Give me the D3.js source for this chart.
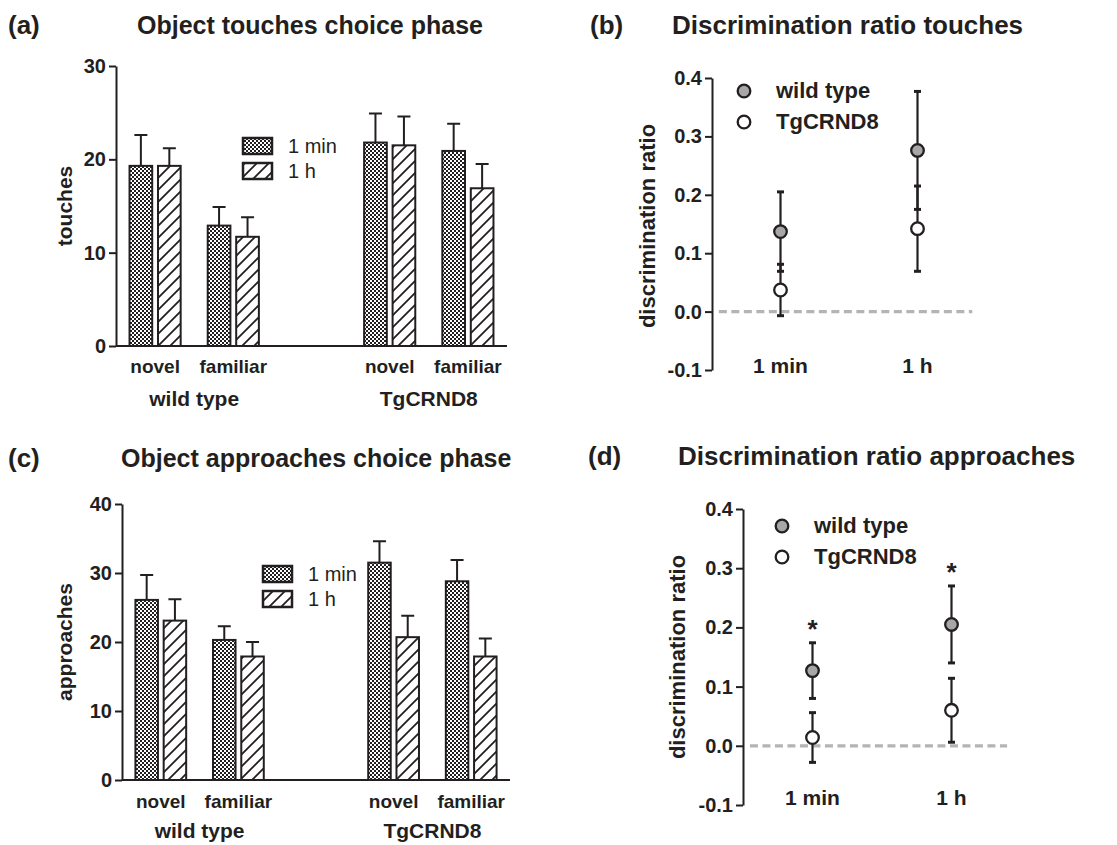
<!DOCTYPE html>
<html>
<head>
<meta charset="utf-8">
<script src="https://cdn.jsdelivr.net/npm/d3@7"></script>
<style>
  body { margin: 0; background: #fff; }
  text { font-family: "Liberation Sans", Arial, sans-serif; fill: #231f20; }
</style>
</head>
<body>
<svg id="fig" width="1117" height="845"></svg>
<script>
// ---- data ----
const genotypes = ['wild type', 'TgCRND8']
const objects = ['novel', 'familiar']
const delays = ['1 min', '1 h']

// bars ordered wt-novel, wt-familiar, tg-novel, tg-familiar; each [1 min, 1 h]
const touchesMean = [[19.3, 19.3], [12.9, 11.7], [21.8, 21.5], [20.9, 16.9]]
const touchesSem = [[3.3, 1.9], [2.0, 2.1], [3.1, 3.1], [2.9, 2.6]]
const approachesMean = [[26.1, 23.1], [20.3, 17.9], [31.5, 20.7], [28.8, 17.9]]
const approachesSem = [[3.6, 3.1], [2.0, 2.1], [3.1, 3.1], [3.1, 2.6]]
const touchTicks = [0, 10, 20, 30]
const approachTicks = [0, 10, 20, 30, 40]

// discrimination ratios, [1 min, 1 h]
const ratioTicks = [-0.1, 0.0, 0.1, 0.2, 0.3, 0.4]
const touchRatioWt = [0.137, 0.276]
const touchRatioWtSem = [0.068, 0.101]
const touchRatioTg = [0.037, 0.142]
const touchRatioTgSem = [0.044, 0.073]
const approachRatioWt = [0.127, 0.205]
const approachRatioWtSem = [0.047, 0.065]
const approachRatioTg = [0.014, 0.060]
const approachRatioTgSem = [0.042, 0.054]
const approachStars = ['*', '*']

const ink = '#231f20'
const svg = d3.select('#fig')

// ---- fill patterns ----
const defs = svg.append('defs')
const checker = defs.append('pattern')
  .attr('id', 'checker').attr('patternUnits', 'userSpaceOnUse')
  .attr('width', 4).attr('height', 4)
checker.append('rect').attr('width', 4).attr('height', 4).attr('fill', '#fff')
checker.append('rect').attr('width', 2).attr('height', 2).attr('fill', ink)
checker.append('rect').attr('x', 2).attr('y', 2).attr('width', 2).attr('height', 2).attr('fill', ink)

const hatch = defs.append('pattern')
  .attr('id', 'hatch').attr('patternUnits', 'userSpaceOnUse')
  .attr('width', 12).attr('height', 12)
hatch.append('rect').attr('width', 12).attr('height', 12).attr('fill', '#fff')
hatch.append('path')
  .attr('d', 'M-2,14 L14,-2 M-2,2 L2,-2 M10,14 L14,10')
  .attr('stroke', ink).attr('stroke-width', 1.8)

const fills = ['url(#checker)', 'url(#hatch)']

function styleAxis (g) {
  g.select('.domain').attr('stroke', ink).attr('stroke-width', 2)
  g.selectAll('.tick line').attr('stroke', ink).attr('stroke-width', 2)
  g.selectAll('.tick text')
    .style('font-size', '20px').style('font-weight', 'bold').attr('fill', ink)
}

function panelTitle (label, lx, title, tx, y, size) {
  svg.append('text').attr('x', lx).attr('y', y)
    .style('font-size', '26px').style('font-weight', 'bold').text(label)
  svg.append('text').attr('x', tx).attr('y', y)
    .style('font-size', size + 'px').style('font-weight', 'bold').text(title)
}

/**
 * Grouped bar chart with one-sided error bars
 */
function drawBarPanel (p) {
  const g = svg.append('g')
  const x = d3.scaleLinear().domain([-0.5, 4.5]).range([p.left, p.right])
  const y = d3.scaleLinear().domain([0, d3.max(p.ticks)]).range([p.bottom, p.top])
  const unit = x(1) - x(0)
  const bw = unit * 0.29
  const off = unit * 0.182

  const rows = []
  genotypes.forEach((gt, gi) => objects.forEach((ob, oi) => delays.forEach((dl, di) => {
    const k = gi * 2 + oi
    rows.push({ pos: gi * 3 + oi, di, mean: p.mean[k][di], sem: p.sem[k][di] })
  })))

  const cx = d => x(d.pos) + (d.di === 0 ? -off : off)

  // error bars (upper only)
  g.selectAll('.err').data(rows).enter().append('path')
    .attr('d', d => `M${cx(d)},${y(d.mean)}V${y(d.mean + d.sem)}M${cx(d) - 6.5},${y(d.mean + d.sem)}h13`)
    .attr('stroke', ink).attr('stroke-width', 2).attr('fill', 'none')

  g.selectAll('.bar').data(rows).enter().append('rect')
    .attr('x', d => cx(d) - bw / 2)
    .attr('y', d => y(d.mean))
    .attr('width', bw)
    .attr('height', d => y(0) - y(d.mean))
    .attr('fill', d => fills[d.di])
    .attr('stroke', ink).attr('stroke-width', 2)

  // axes
  g.append('g').attr('transform', `translate(${p.left},0)`)
    .call(d3.axisLeft(y).tickValues(p.ticks).tickSize(7).tickSizeOuter(0).tickPadding(3))
    .call(styleAxis)
  g.append('line')
    .attr('x1', p.left).attr('x2', p.right).attr('y1', y(0)).attr('y2', y(0))
    .attr('stroke', ink).attr('stroke-width', 2)

  // category labels
  genotypes.forEach((gt, gi) => {
    objects.forEach((ob, oi) => {
      g.append('text').attr('x', x(gi * 3 + oi)).attr('y', p.catY)
        .attr('text-anchor', 'middle')
        .style('font-size', '19px').style('font-weight', 'bold').text(ob)
    })
    g.append('text').attr('x', x(gi * 3 + 0.5)).attr('y', p.groupY)
      .attr('text-anchor', 'middle')
      .style('font-size', '21px').style('font-weight', 'bold').text(gt)
  })

  g.append('text')
    .attr('transform', `translate(${p.labelX},${(p.top + p.bottom) / 2}) rotate(-90)`)
    .attr('text-anchor', 'middle')
    .style('font-size', '21px').style('font-weight', 'bold').text(p.yLabel)

  // legend
  delays.forEach((dl, di) => {
    const ly = p.legY + di * 25
    g.append('rect').attr('x', p.legX).attr('y', ly).attr('width', 29).attr('height', 16)
      .attr('fill', fills[di]).attr('stroke', ink).attr('stroke-width', 2.5)
    g.append('text').attr('x', p.legX + 45).attr('y', ly + 15)
      .style('font-size', '20px').text(dl)
  })
}

/**
 * Mean +/- SEM dot plot of the discrimination ratio
 */
function drawRatioPanel (p) {
  const g = svg.append('g')
  const x = d3.scaleLinear().domain([-0.5, 1.5]).range([p.left, p.left + 2 * p.step])
  const y = d3.scaleLinear().domain([-0.1, 0.4]).range([p.bottom, p.top])

  g.append('line')
    .attr('x1', x(-0.45)).attr('x2', x(1.4)).attr('y1', y(0)).attr('y2', y(0))
    .attr('stroke', '#b4b4b6').attr('stroke-width', 3.2).attr('stroke-dasharray', '8,4.5')

  g.append('g').attr('transform', `translate(${p.left},0)`)
    .call(d3.axisLeft(y).tickValues(ratioTicks)
      .tickFormat(d => d3.format('.1f')(d).replace('\u2212', '-'))
      .tickSize(7).tickSizeOuter(0).tickPadding(3))
    .call(styleAxis)

  const series = [
    { mean: p.wt, sem: p.wtSem, fill: '#a7a7a9' },
    { mean: p.tg, sem: p.tgSem, fill: '#fff' }
  ]
  series.forEach(s => {
    const pts = delays.map((dl, i) => ({ i, m: s.mean[i], e: s.sem[i] }))
    g.selectAll(null).data(pts).enter().append('path')
      .attr('d', d => `M${x(d.i)},${y(d.m - d.e)}V${y(d.m + d.e)}`)
      .attr('stroke', ink).attr('stroke-width', 2.2)
    g.selectAll(null).data(pts.flatMap(d => [d.m - d.e, d.m + d.e].map(v => ({ i: d.i, v })))).enter()
      .append('path')
      .attr('d', d => `M${x(d.i) - 3.5},${y(d.v)}h7`)
      .attr('stroke', ink).attr('stroke-width', 3)
  })
  series.forEach(s => {
    g.selectAll(null).data(delays.map((dl, i) => ({ i, m: s.mean[i] }))).enter()
      .append('circle')
      .attr('cx', d => x(d.i)).attr('cy', d => y(d.m)).attr('r', 6.3)
      .attr('fill', s.fill).attr('stroke', ink).attr('stroke-width', 2.3)
  })

  if (p.stars) {
    p.stars.forEach((st, i) => {
      g.append('text').attr('x', x(i)).attr('y', y(p.wt[i] + p.wtSem[i]) - 5)
        .attr('text-anchor', 'middle')
        .style('font-size', '26px').style('font-weight', 'bold').text(st)
    })
  }

  delays.forEach((dl, i) => {
    g.append('text').attr('x', x(i)).attr('y', p.catY)
      .attr('text-anchor', 'middle')
      .style('font-size', '21px').style('font-weight', 'bold').text(dl)
  })

  g.append('text')
    .attr('transform', `translate(${p.labelX},${p.labelY}) rotate(-90)`)
    .attr('text-anchor', 'middle')
    .style('font-size', '22px').style('font-weight', 'bold').text('discrimination ratio')

  genotypes.forEach((gt, gi) => {
    const ly = p.legY + gi * 31
    g.append('circle').attr('cx', p.legX).attr('cy', ly).attr('r', 6.3)
      .attr('fill', series[gi].fill).attr('stroke', ink).attr('stroke-width', 2.3)
    g.append('text').attr('x', p.legX + 32).attr('y', ly + 7)
      .style('font-size', '22px').style('font-weight', 'bold').text(gt)
  })
}

// ---- panels ----
panelTitle('(a)', 8, 'Object touches choice phase', 137, 34, 25)
drawBarPanel({
  mean: touchesMean, sem: touchesSem, ticks: touchTicks, yLabel: 'touches',
  left: 116, right: 507, top: 66, bottom: 346,
  catY: 373, groupY: 406, labelX: 72, legX: 243, legY: 138
})

panelTitle('(b)', 590, 'Discrimination ratio touches', 672, 34, 26)
drawRatioPanel({
  wt: touchRatioWt, wtSem: touchRatioWtSem, tg: touchRatioTg, tgSem: touchRatioTgSem,
  left: 712, step: 137, top: 78, bottom: 370,
  catY: 373, labelX: 655, labelY: 226, legX: 744, legY: 91
})

panelTitle('(c)', 8, 'Object approaches choice phase', 121, 467, 25)
drawBarPanel({
  mean: approachesMean, sem: approachesSem, ticks: approachTicks, yLabel: 'approaches',
  left: 122, right: 510, top: 504, bottom: 780,
  catY: 808, groupY: 838, labelX: 72, legX: 263, legY: 566
})

panelTitle('(d)', 588, 'Discrimination ratio approaches', 678, 465, 26)
drawRatioPanel({
  wt: approachRatioWt, wtSem: approachRatioWtSem, tg: approachRatioTg, tgSem: approachRatioTgSem,
  stars: approachStars,
  left: 743, step: 139, top: 509, bottom: 805,
  catY: 805, labelX: 685, labelY: 657, legX: 782, legY: 526
})
</script>
</body>
</html>
